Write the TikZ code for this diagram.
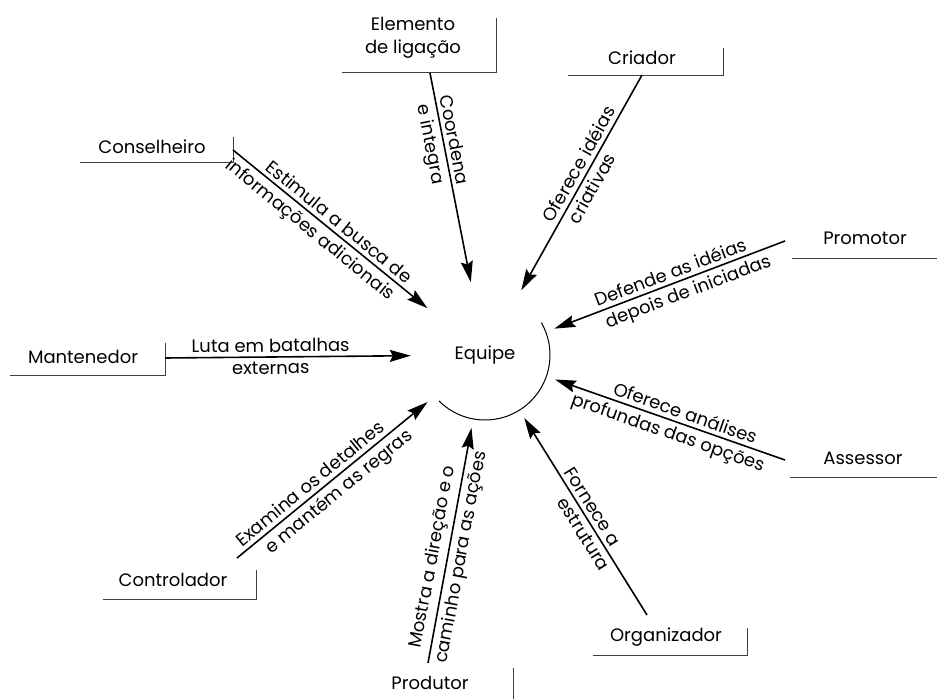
\documentclass[tikz,border=0pt]{standalone}
\usepackage{fontspec}
\setmainfont{Poppins}
\usetikzlibrary{arrows.meta}

\begin{document}
\begin{tikzpicture}[
  x=1pt, y=1pt,
  font=\fontsize{18}{23}\selectfont,
  papel/.style={align=center, inner sep=0pt},
  acao/.style={line width=1.6pt, -{Stealth[length=21pt, width=12pt, inset=3pt]}},
  moldura/.style={line width=0.8pt, black!75},
  rotulo/.style={sloped, inner sep=4pt, font=\fontsize{18}{20}\selectfont},
]
  \useasboundingbox (0,0) rectangle (937,699);

  \node[circle, minimum size=148pt, inner sep=0pt] (equipe) at (485,344) {Equipe};
  \draw[line width=1pt] (equipe.center) ++(-135:65) arc[start angle=-135, end angle=30, radius=65];

  \coordinate (elemento-s) at (430,626);
  \coordinate (criador-s) at (642,624);
  \coordinate (promotor-s) at (785,458);
  \coordinate (assessor-s) at (785,239);
  \coordinate (organizador-s) at (647,84);
  \coordinate (produtor-s) at (428,36);
  \coordinate (controlador-s) at (237,141);
  \coordinate (mantenedor-s) at (165,341);
  \coordinate (conselheiro-s) at (233,549);

  % papeis
  \node[papel] (elemento) at (413,661) {Elemento\\de ligação};
  \node[papel] (criador) at (642,641) {Criador};
  \node[papel] (promotor) at (865,461) {Promotor};
  \node[papel] (assessor) at (863,241) {Assessor};
  \node[papel] (organizador) at (666,62) {Organizador};
  \node[papel] (produtor) at (430,16) {Produtor};
  \node[papel] (controlador) at (173,119) {Controlador};
  \node[papel] (mantenedor) at (83,342) {Mantenedor};
  \node[papel] (conselheiro) at (152,552) {Conselheiro};

  \draw[moldura] (342,627) -- (496,627) -- (496,681);
  \draw[moldura] (568,624) -- (723,624) -- (723,651);
  \draw[moldura] (792,441) -- (937,441);
  \draw[moldura] (790,222) -- (937,222);
  \draw[moldura] (593,44) -- (747,44) -- (747,71);
  \draw[moldura] (513,0) -- (513,31);
  \draw[moldura] (103,100) -- (256,100) -- (256,129);
  \draw[moldura] (10,324) -- (165,324) -- (165,356);
  \draw[moldura] (80,537) -- (233,537) -- (233,562);

  % setas
  \draw[acao] (elemento-s) -- node[rotulo, above, pos=0.33] {Coordena}
    node[rotulo, below, pos=0.33] {e integra} (equipe);
  \draw[acao] (criador-s) -- node[rotulo, above, pos=0.44] {Oferece idéias}
    node[rotulo, below, pos=0.5] {criativas} (equipe);
  \draw[acao] (promotor-s) -- node[rotulo, above, pos=0.48] {Defende as idéias}
    node[rotulo, below, pos=0.44] {depois de iniciadas} (equipe);
  \draw[acao] (assessor-s) -- node[rotulo, above, pos=0.45] {Oferece análises}
    node[rotulo, below, pos=0.49] {profundas das opções} (equipe);
  \draw[acao] (organizador-s) -- node[rotulo, above, pos=0.52] {Fornece a}
    node[rotulo, below, pos=0.44] {estrutura} (equipe);
  \draw[acao] (produtor-s) -- node[rotulo, above, pos=0.44] {Mostra a direção e o}
    node[rotulo, below, pos=0.46] {caminho para as ações} (equipe);
  \draw[acao] (controlador-s) -- node[rotulo, above, pos=0.42] {Examina os detalhes}
    node[rotulo, below, pos=0.49] {e mantém as regras} (equipe);
  \draw[acao] (mantenedor-s) -- node[rotulo, above, pos=0.43] {Luta em batalhas}
    node[rotulo, below, pos=0.43] {externas} (equipe);
  \draw[acao] (conselheiro-s) -- node[rotulo, above, pos=0.51] {Estimula a busca de}
    node[rotulo, below, pos=0.44] {informações adicionais} (equipe);
\end{tikzpicture}
\end{document}
